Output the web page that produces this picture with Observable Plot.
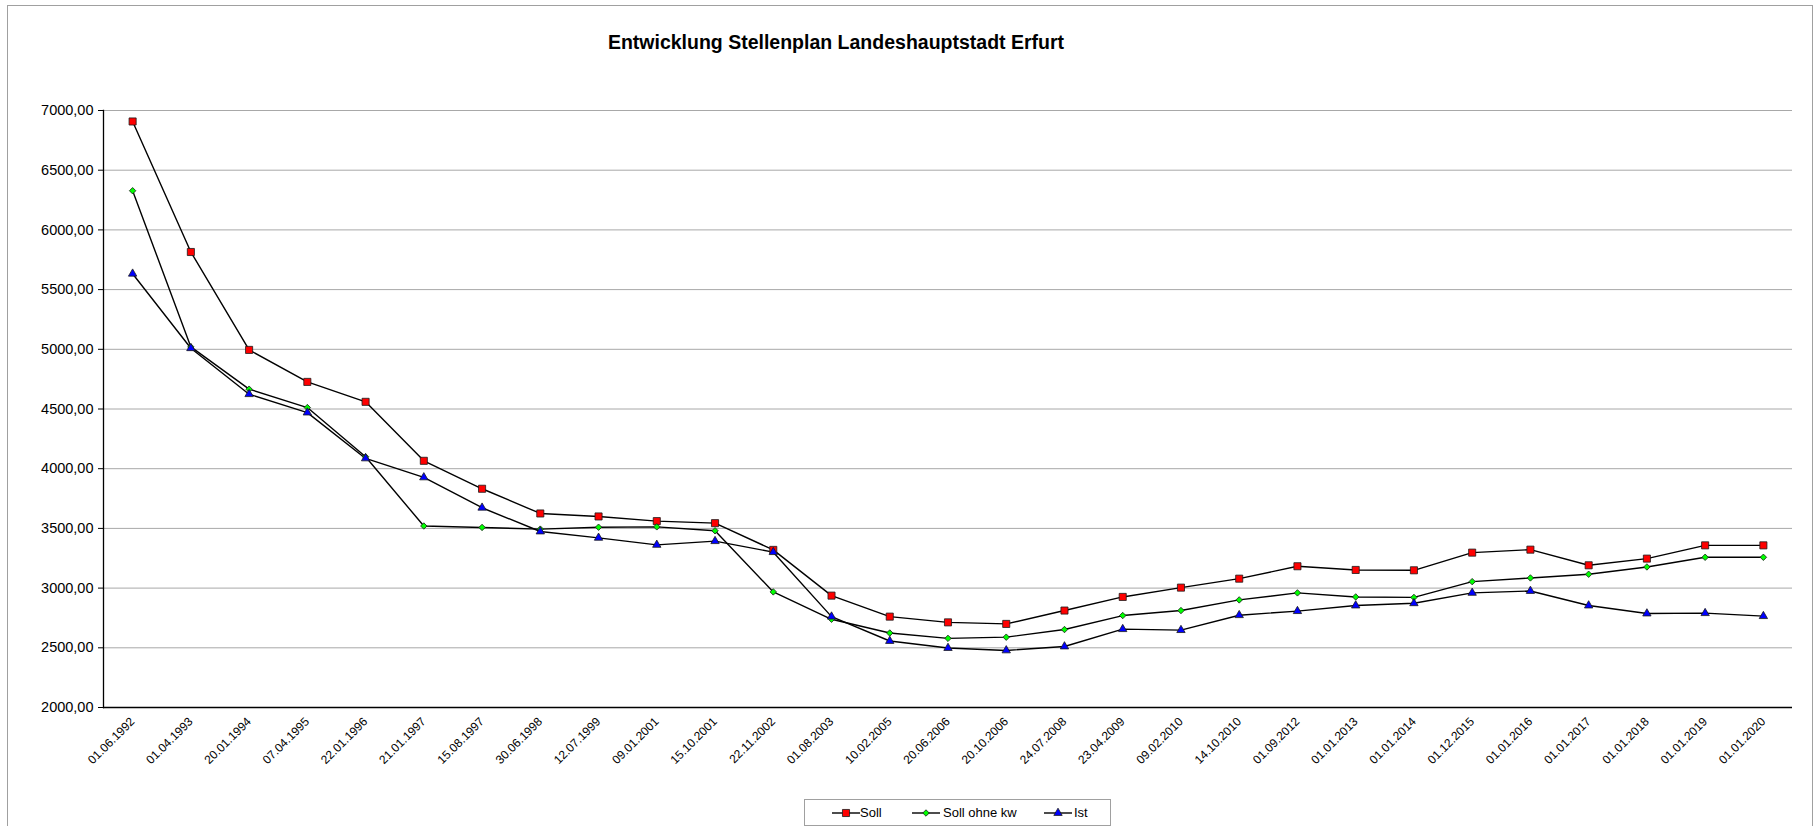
<!DOCTYPE html>
<html><head><meta charset="utf-8">
<script src="https://cdn.jsdelivr.net/npm/d3@7"></script>
<script src="https://cdn.jsdelivr.net/npm/@observablehq/plot@0.6"></script>
<style>
html,body{margin:0;padding:0;background:#fff;width:1814px;height:826px;overflow:hidden;font-family:"Liberation Sans",Arial,sans-serif;}
#frame{position:absolute;left:7px;top:5px;width:1806px;height:900px;border:1px solid #a0a0a0;box-sizing:border-box;}
#title{position:absolute;left:0;width:1672px;top:31px;line-height:22px;text-align:center;font-weight:bold;font-size:19.5px;color:#000;}
#chart{position:absolute;left:0;top:0;}
#legend{position:absolute;left:804px;top:799px;width:307px;height:27px;border:1px solid #a0a0a0;box-sizing:border-box;background:#fff;}
.li{position:absolute;top:0;height:25px;}
.li svg{position:absolute;top:6px;left:0;}
.li span{position:absolute;top:5px;font-size:13px;line-height:15px;white-space:nowrap;color:#000;}
</style>
</head><body>
<div id="frame"></div>
<div id="title">Entwicklung Stellenplan Landeshauptstadt Erfurt</div>
<div id="chart"></div>
<div id="legend"></div>
<script>
const dates = ["01.06.1992","01.04.1993","20.01.1994","07.04.1995","22.01.1996","21.01.1997","15.08.1997","30.06.1998","12.07.1999","09.01.2001","15.10.2001","22.11.2002","01.08.2003","10.02.2005","20.06.2006","20.10.2006","24.07.2008","23.04.2009","09.02.2010","14.10.2010","01.09.2012","01.01.2013","01.01.2014","01.12.2015","01.01.2016","01.01.2017","01.01.2018","01.01.2019","01.01.2020"];
const soll = [6908,5815,4995,4727,4560,4066,3832,3625,3600,3561,3544,3320,2937,2761,2713,2700,2812,2926,3004,3079,3183,3152,3149,3297,3322,3191,3247,3358,3358];
const sollOhneKw = [6328,5020,4666,4512,4100,3520,3508,3494,3510,3513,3480,2968,2739,2624,2579,2589,2653,2770,2812,2901,2960,2926,2922,3054,3085,3116,3177,3258,3258];
const ist = [5633,5009,4624,4470,4086,3927,3673,3474,3421,3362,3393,3301,2761,2557,2498,2478,2511,2656,2648,2773,2807,2854,2873,2960,2976,2854,2787,2790,2765];
const seriesNames = ["Soll","Soll ohne kw","Ist"];
const yTicks = [2000,2500,3000,3500,4000,4500,5000,5500,6000,6500,7000];

const seriesValues = [soll, sollOhneKw, ist];
const styles = {
  "Soll": {symbol:"square", fill:"#ff0000", r:4.0},
  "Soll ohne kw": {symbol:"diamond2", fill:"#00ff00", r:2.9},
  "Ist": {symbol:"triangle", fill:"#0000ff", r:3.1}
};
const rows = [];
seriesNames.forEach((s,i) => dates.forEach((d,j) => rows.push({series:s, date:d, value:seriesValues[i][j]})));
const fmt = v => d3.format(".2f")(v).replace(".", ",");

const dotMarks = seriesNames.map(s => Plot.dot(rows.filter(r => r.series === s), {
  x:"date", y:"value", symbol: () => styles[s].symbol, r: styles[s].r,
  fill: styles[s].fill, stroke:"#1a1a1a", strokeWidth:0.8
}));

const chart = Plot.plot({
  width:1814, height:790,
  marginLeft:103, marginRight:22, marginTop:110, marginBottom:83,
  style:{fontFamily:"'Liberation Sans', Arial, sans-serif", color:"#000", background:"transparent"},
  symbol:{type:"identity"},
  x:{type:"point", domain:dates, padding:0.5, round:false, label:null},
  y:{domain:[2000,7000], label:null},
  marks:[
    Plot.gridY(yTicks, {stroke:"#a8a8a8", strokeOpacity:1, strokeWidth:1}),
    Plot.frame({anchor:"left", stroke:"#000", strokeWidth:1.3}),
    Plot.ruleY([2000], {stroke:"#000", strokeWidth:1.5}),
    Plot.axisY(yTicks, {tickFormat:fmt, tickSize:5, tickPadding:5, fontSize:14.5, label:null, stroke:"#000"}),
    Plot.axisX({tickRotate:-45, tickSize:0, tickPadding:12, fontSize:12, label:null}),
    Plot.line(rows, {x:"date", y:"value", z:"series", stroke:"#000", strokeWidth:1.4}),
    ...dotMarks
  ]
});
document.getElementById("chart").appendChild(chart);

// legend
const legend = document.getElementById("legend");
const legendPos = [{m:27, t:55}, {m:107, t:138}, {m:239, t:269}];
seriesNames.forEach((s,i) => {
  const st = styles[s];
  const item = document.createElement("div");
  item.className = "li";
  item.style.left = legendPos[i].m + "px";
  const symMap = {square:d3.symbolSquare, diamond2:d3.symbolDiamond2, triangle:d3.symbolTriangle};
  const path = d3.symbol(symMap[st.symbol], st.r*st.r*Math.PI)();
  item.innerHTML = `<svg width="28" height="14" viewBox="0 0 28 14"><line x1="0" x2="28" y1="7" y2="7" stroke="#000" stroke-width="1.4"/><path d="${path}" transform="translate(14,7)" fill="${st.fill}" stroke="#1a1a1a" stroke-width="0.8"/></svg><span style="left:${legendPos[i].t - legendPos[i].m}px">${s}</span>`;
  legend.appendChild(item);
});
</script>
</body></html>
